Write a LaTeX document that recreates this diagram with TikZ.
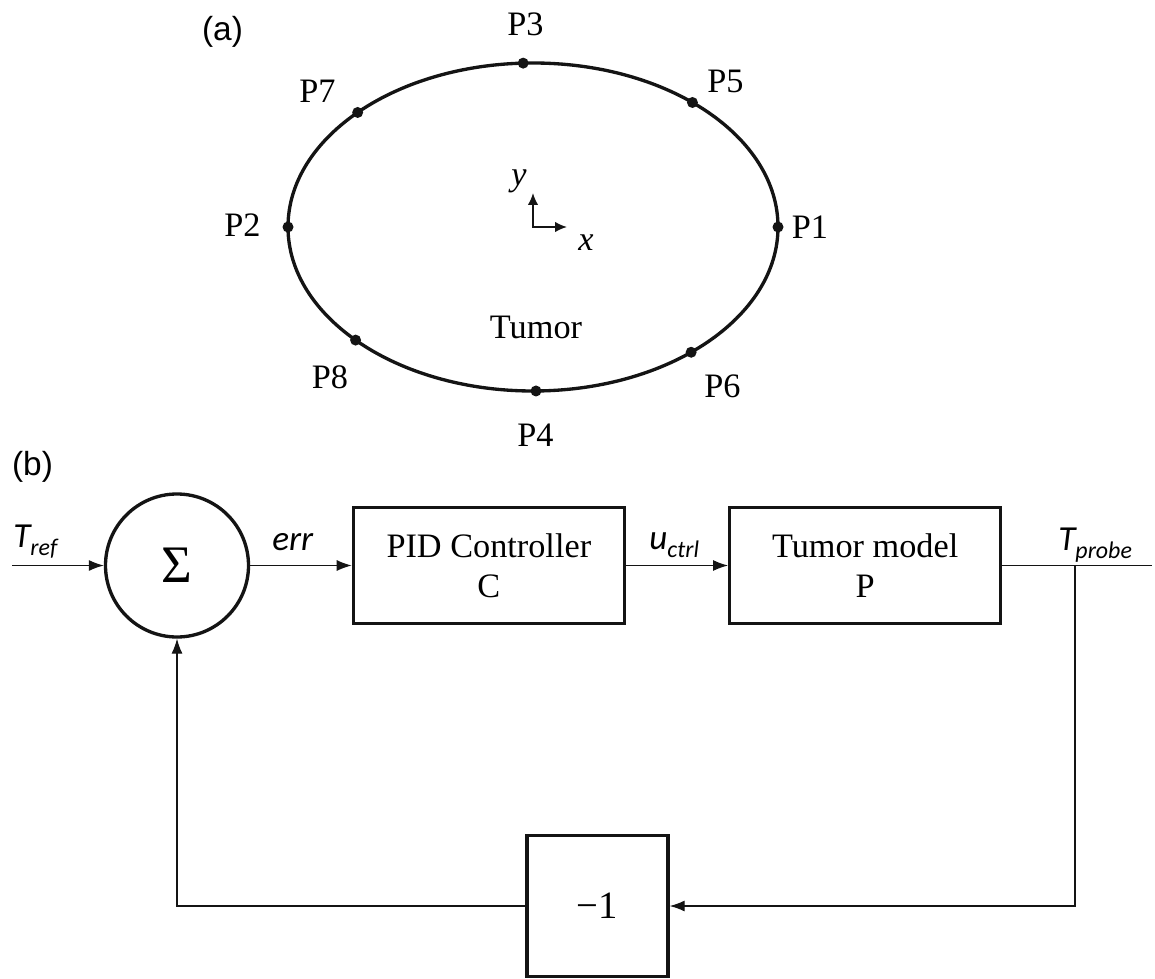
\documentclass[tikz,border=0pt]{standalone}
\usepackage{fontspec}
\setmainfont{Liberation Serif}
\newfontfamily\labelfont{Carlito}
\newfontfamily\panelfont{Liberation Sans}
\usepackage{xcolor}
\usepackage{tikz}
\usetikzlibrary{shapes.geometric, arrows.meta, positioning, calc}
\definecolor{ink}{RGB}{20, 20, 20}
\newcommand{\sig}[2]{#1\raisebox{-0.23em}{\fontsize{13.6}{14}\selectfont #2}}
\tikzstyle{block} = [rectangle, minimum width=5.42cm, minimum height=2.32cm, align=center, draw=ink, line width=1.9pt, font=\fontsize{19.5}{22.7}\selectfont]
\tikzstyle{sumnode} = [circle, minimum size=2.86cm, inner sep=0pt, draw=ink, line width=1.9pt, font=\fontsize{30}{32}\selectfont]
\tikzstyle{region} = [ellipse, minimum width=9.8cm, minimum height=6.56cm, inner sep=0pt, draw=ink, line width=1.9pt]
\tikzstyle{dot} = [circle, fill=ink, minimum size=0.22cm, inner sep=0pt]
\tikzstyle{ptlabel} = [inner sep=0pt, font=\fontsize{19.5}{22}\selectfont]
\tikzstyle{axislabel} = [inner sep=0pt, font=\itshape\fontsize{19.5}{22}\selectfont]
\tikzstyle{siglabel} = [anchor=base west, inner sep=0pt, font=\labelfont\itshape\fontsize{20}{24}\selectfont]
\tikzstyle{panel} = [inner sep=0pt, font=\panelfont\fontsize{19}{22}\selectfont]
\tikzstyle{arrow} = [line width=0.65pt, -{Latex[length=3mm, width=2.2mm]}, color=ink]
\tikzstyle{wire} = [line width=0.65pt, color=ink]
\tikzstyle{axis} = [line width=0.9pt, {Latex[length=2.4mm, width=2.1mm]}-{Latex[length=2.4mm, width=2.1mm]}, color=ink]

\begin{document}
\begin{tikzpicture}
    \useasboundingbox (0,0) rectangle (23.1,-19.58);

    % (a) Tumor outline
    \node (body) [region] at (10.66,-4.54) {};
    \node (p1) [dot] at ($(body.center)+(0:4.9 and 3.28)$) {};
    \node (p2) [dot] at ($(body.center)+(180:4.9 and 3.28)$) {};
    \node (p3) [dot] at ($(body.center)+(92.3:4.9 and 3.28)$) {};
    \node (p4) [dot] at ($(body.center)+(-89.3:4.9 and 3.28)$) {};
    \node (p5) [dot] at ($(body.center)+(49.4:4.9 and 3.28)$) {};
    \node (p6) [dot] at ($(body.center)+(-49.8:4.9 and 3.28)$) {};
    \node (p7) [dot] at ($(body.center)+(135.7:4.9 and 3.28)$) {};
    \node (p8) [dot] at ($(body.center)+(-136.4:4.9 and 3.28)$) {};

    \node (l1) [ptlabel] at (16.2,-4.54) {P1};
    \node (l2) [ptlabel] at (4.85,-4.5) {P2};
    \node (l3) [ptlabel] at (10.51,-0.48) {P3};
    \node (l4) [ptlabel] at (10.71,-8.7) {P4};
    \node (l5) [ptlabel] at (14.51,-1.63) {P5};
    \node (l6) [ptlabel] at (14.45,-7.72) {P6};
    \node (l7) [ptlabel] at (6.35,-1.82) {P7};
    \node (l8) [ptlabel] at (6.6,-7.54) {P8};
    \node (tumorlabel) [ptlabel] at (10.72,-6.54) {Tumor};

    % Axes
    \coordinate (origin) at (body.center);
    \coordinate (ytip) at (10.66,-3.86);
    \coordinate (xtip) at (11.34,-4.54);
    \draw [axis] (ytip) -- (origin) -- (xtip);
    \node (ylabel) [axislabel] at (10.38,-3.62) {y};
    \node (xlabel) [axislabel] at (11.72,-4.86) {x};

    % (b) Control loop
    \node (sigma) [sumnode] at (3.54,-11.31) {Σ};
    \node (pid) [block, right=2.03cm of sigma] {PID Controller\\C};
    \node (tumor) [block, right=2.04cm of pid] {Tumor model\\P};
    \node (gain) [block, minimum width=2.82cm, minimum height=2.82cm, font=\fontsize{22}{24}\selectfont] at (11.95,-18.12) {−1};

    \coordinate (in) at (0.24,-11.31);
    \coordinate (out) at (23.04,-11.31);
    \coordinate (branch) at (21.5,-11.31);

    % Arrows
    \draw [arrow] (in) -- (sigma);
    \draw [arrow] (sigma) -- (pid);
    \draw [arrow] (pid) -- (tumor);
    \draw [wire] (tumor) -- (out);
    \draw [arrow] (branch) |- (gain);
    \draw [arrow] (gain) -| (sigma);

    % Labels
    \node (tref) [siglabel] at (0.26,-10.94) {\sig{T}{ref}};
    \node (err) [siglabel] at (5.44,-11.0) {err};
    \node (uctrl) [siglabel] at (12.98,-10.98) {\sig{u}{ctrl}};
    \node (tprobe) [siglabel] at (21.16,-11.0) {\sig{T}{probe}};
    \node (panela) [panel] at (4.45,-0.63) {(a)};
    \node (panelb) [panel] at (0.65,-9.33) {(b)};
\end{tikzpicture}
\end{document}
